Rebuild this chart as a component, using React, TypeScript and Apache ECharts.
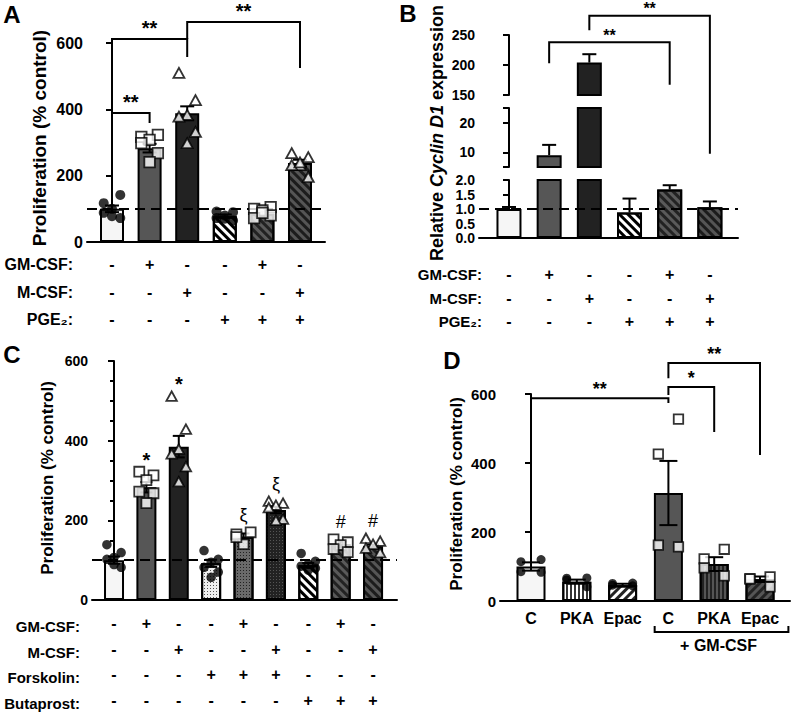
import React, { useEffect, useRef } from "react";
import * as echarts from "echarts";

const FONT = '"Liberation Sans", Arial, Helvetica, sans-serif';

// ---------------- Panel A ----------------
const aMeans = [100, 283, 388, 78, 85, 238];
const aSem = [10, 13, 21, 5, 7, 10];
const aPoints = [
  [117, 142, 100, 88, 72, 78],
  [317, 323, 308, 298, 268, 241],
  [510, 428, 383, 378, 332, 298],
  [92, 90, 80, 72, 65, 70],
  [100, 105, 95, 72, 80, 88],
  [268, 256, 232, 232, 196, 240],
];
const aMarkers = ["circle", "square", "triangle", "circle", "square", "triangle"];
const aFills = ["white", "grey", "dark", "whiteStripe", "greyStripe", "darkStripe"];
const aRowLabels = ["GM-CSF:", "M-CSF:", "PGE₂:"];
const aTable = [
  ["-", "+", "-", "-", "+", "-"],
  ["-", "-", "+", "-", "-", "+"],
  ["-", "-", "-", "+", "+", "+"],
];
// [from, to, top, leftLegEnd, rightLegEnd]
const aBrackets = [
  [0, 1, 389, 353, 359],
  [0, 2, 612, 491, 558],
  [2, 5, 663, 612, 525],
];
const aBracketLabels = ["**", "**", "**"];

// ---------------- Panel B ----------------
const bMeans = [1.0, 9.0, 204, 0.88, 1.67, 1.06];
const bSem = [0.07, 3.5, 14, 0.48, 0.15, 0.2];
const bFills = ["white", "grey", "dark", "whiteStripe", "greyStripe", "darkStripe"];
const bRowLabels = ["GM-CSF:", "M-CSF:", "PGE₂:"];
const bTable = [
  ["-", "+", "-", "-", "+", "-"],
  ["-", "-", "+", "-", "-", "+"],
  ["-", "-", "-", "+", "+", "+"],
];
const bSegments = [
  [0, 2],
  [5, 25],
  [150, 250],
];
const bBrackets = [
  [1, 4, 238, 203, 167],
  [2, 5, 282, 258, 52],
];
const bBracketLabels = ["**", "**"];

// ---------------- Panel C ----------------
const cMeans = [100, 283, 385, 92, 159, 226, 87, 140, 134];
const cSem = [9, 13, 27, 9, 8, 8, 6, 7, 5];
const cPoints = [
  [139, 119, 107, 102, 82, 89],
  [322, 313, 301, 272, 268, 243],
  [512, 429, 379, 367, 335, 297],
  [124, 102, 95, 82, 70, 57],
  [165, 170, 140, 158],
  [248, 243, 238, 232, 203, 200],
  [117, 97, 90, 85, 80, 75],
  [152, 145, 138, 128, 120],
  [155, 148, 140, 130, 119],
];
const cMarkers = ["circle", "square", "triangle", "circle", "square", "triangle", "circle", "square", "triangle"];
const cFills = ["white", "grey", "dark", "whiteDots", "greyDots", "darkDots", "whiteStripe", "greyStripe", "darkStripe"];
const cMarks = ["", "*", "*", "", "ξ", "ξ", "", "#", "#"];
const cRowLabels = ["GM-CSF:", "M-CSF:", "Forskolin:", "Butaprost:"];
const cTable = [
  ["-", "+", "-", "-", "+", "-", "-", "+", "-"],
  ["-", "-", "+", "-", "-", "+", "-", "-", "+"],
  ["-", "-", "-", "+", "+", "+", "-", "-", "-"],
  ["-", "-", "-", "-", "-", "-", "+", "+", "+"],
];

// ---------------- Panel D ----------------
const dCategories = ["C", "PKA", "Epac", "C", "PKA", "Epac"];
const dMeans = [100, 56, 46, 313, 107, 63];
const dSem = [12, 6, 4, 93, 20, 8];
const dPoints = [
  [120, 114, 85, 83],
  [67, 66, 61, 41],
  [52, 51, 46, 44],
  [527, 426, 162, 157],
  [150, 122, 96, 73],
  [70, 64, 64, 41],
];
const dMarkers = ["circle", "circle", "circle", "square", "square", "square"];
const dFills = ["white", "whiteVert", "whiteStripeR", "grey", "darkVert", "darkStripeR"];
const dGroupLabel = "+ GM-CSF";
const dGroup = [3, 5];
const dBrackets = [
  [0, 3, 588, 397, 574],
  [3, 4, 620, 597, 490],
  [3, 5, 690, 646, 423],
];
const dBracketLabels = ["**", "*", "**"];

// ---------------- styling helpers ----------------
const stripe = (c: string, rot = Math.PI / 4) => ({
  symbol: "rect",
  symbolSize: 1,
  dashArrayX: [1, 0],
  dashArrayY: [3, 3],
  rotation: rot,
  color: c,
});
const dots = (c: string) => ({
  symbol: "rect",
  symbolSize: 1,
  dashArrayX: [1, 2],
  dashArrayY: [1, 2],
  color: c,
});
const vert = (c: string) => ({
  symbol: "rect",
  symbolSize: 1,
  dashArrayX: [1, 0],
  dashArrayY: [2, 2],
  rotation: Math.PI / 2,
  color: c,
});

const FILL: Record<string, any> = {
  white: { color: "#f6f6f6" },
  grey: { color: "#565656" },
  dark: { color: "#222222" },
  whiteStripe: { color: "#ffffff", decal: stripe("#000") },
  greyStripe: { color: "#5a5a5a", decal: stripe("#222") },
  darkStripe: { color: "#1c1c1c", decal: stripe("#555") },
  whiteStripeR: { color: "#ffffff", decal: stripe("#222", -Math.PI / 4) },
  darkStripeR: { color: "#555555", decal: stripe("#222", -Math.PI / 4) },
  whiteDots: { color: "#f0f0f0", decal: dots("#555") },
  greyDots: { color: "#6a6a6a", decal: dots("#222") },
  darkDots: { color: "#222222", decal: dots("#555") },
  whiteVert: { color: "#ffffff", decal: vert("#333") },
  darkVert: { color: "#555555", decal: vert("#222") },
};

function yAxisCfg(gridIndex: number, min: number, max: number, interval: number, fontSize: number, extra: any = {}) {
  return {
    type: "value",
    gridIndex,
    min,
    max,
    interval,
    axisLine: { show: true, lineStyle: { color: "#000", width: 2 } },
    axisTick: { show: true, length: 6, lineStyle: { color: "#000", width: 2 } },
    axisLabel: { color: "#000", fontWeight: "bold", fontSize, fontFamily: FONT, margin: 4 },
    splitLine: { show: false },
    ...extra,
  };
}

function xAxisCfg(gridIndex: number, n: number, min: number, max: number, label: any, showLine = true) {
  const idx = Array.from({ length: n }, (_, i) => i);
  return {
    type: "value",
    gridIndex,
    min,
    max,
    axisLine: { show: showLine, onZero: false, lineStyle: { color: "#000", width: 2 } },
    axisTick: { show: false },
    axisLabel: label
      ? {
          show: true,
          customValues: idx,
          color: "#000",
          fontWeight: "bold",
          fontFamily: FONT,
          ...label,
        }
      : { show: false },
    splitLine: { show: false },
  };
}

function barSeries(xi: number, yi: number, means: number[], fills: string[], barWidth: number, minVal = -Infinity) {
  const data: any[] = [];
  means.forEach((m, i) => {
    if (m > minVal) {
      data.push({
        value: [i, m],
        itemStyle: { ...FILL[fills[i]], borderColor: "#000", borderWidth: 2 },
      });
    }
  });
  return {
    type: "bar",
    xAxisIndex: xi,
    yAxisIndex: yi,
    barWidth,
    clip: true,
    z: 2,
    data,
  };
}

function errSeries(xi: number, yi: number, means: number[], sems: number[], both: boolean, cap: number, keep?: (m: number) => boolean) {
  const data: any[] = [];
  means.forEach((m, i) => {
    if (!keep || keep(m)) data.push([i, m, sems[i]]);
  });
  return {
    type: "custom",
    xAxisIndex: xi,
    yAxisIndex: yi,
    z: 3,
    clip: false,
    renderItem: (params: any, api: any) => {
      const x = api.value(0);
      const m = api.value(1);
      const s = api.value(2);
      const top = api.coord([x, m + s]);
      const bot = api.coord([x, both ? m - s : m]);
      const st = { stroke: "#000", lineWidth: 2 };
      const children: any[] = [
        { type: "line", shape: { x1: top[0], y1: top[1], x2: bot[0], y2: bot[1] }, style: st },
        { type: "line", shape: { x1: top[0] - cap, y1: top[1], x2: top[0] + cap, y2: top[1] }, style: st },
      ];
      if (both) children.push({ type: "line", shape: { x1: bot[0] - cap, y1: bot[1], x2: bot[0] + cap, y2: bot[1] }, style: st });
      return { type: "group", children };
    },
    data,
  };
}

const SIZES: Record<string, any> = { circle: 10, square: 10.5, triangle: [11, 10] };

function pointSeries(xi: number, yi: number, points: number[][], markers: string[], jit: number[], scale = 1) {
  const data: any[] = [];
  points.forEach((vals, i) => {
    vals.forEach((v, j) => {
      const m = markers[i];
      const sz = SIZES[m];
      data.push({
        value: [i + jit[j % jit.length], v],
        symbol: m === "square" ? "rect" : m,
        symbolSize: Array.isArray(sz) ? sz.map((s: number) => s * scale) : sz * scale,
        itemStyle:
          m === "circle"
            ? { color: "#000", borderWidth: 0 }
            : { color: "#fff", borderColor: "#000", borderWidth: 1.8 },
      });
    });
  });
  return { type: "scatter", xAxisIndex: xi, yAxisIndex: yi, z: 5, clip: false, data };
}

function dashSeries(xi: number, yi: number, y: number) {
  return {
    type: "line",
    xAxisIndex: xi,
    yAxisIndex: yi,
    data: [],
    z: 4,
    markLine: {
      silent: true,
      symbol: "none",
      label: { show: false },
      lineStyle: { color: "#000", type: [10, 6], width: 2.2 },
      data: [{ yAxis: y }],
    },
  };
}

function bracketSeries(xi: number, yi: number, brackets: number[][], labels: string[], fontSize: number, lift: number) {
  return {
    type: "custom",
    xAxisIndex: xi,
    yAxisIndex: yi,
    z: 6,
    clip: false,
    renderItem: (params: any, api: any) => {
      const a = api.value(0);
      const b = api.value(1);
      const t = api.value(2);
      const lb = api.value(3);
      const rb = api.value(4);
      const p1 = api.coord([a, lb]);
      const p2 = api.coord([a, t]);
      const p3 = api.coord([b, t]);
      const p4 = api.coord([b, rb]);
      return {
        type: "group",
        children: [
          {
            type: "polyline",
            shape: { points: [p1, p2, p3, p4] },
            style: { stroke: "#000", lineWidth: 2, fill: "none" },
          },
          {
            type: "text",
            x: (p2[0] + p3[0]) / 2,
            y: p2[1] - lift,
            style: {
              text: labels[params.dataIndex],
              fill: "#000",
              font: `bold ${fontSize}px ${FONT}`,
              align: "center",
              verticalAlign: "middle",
            },
          },
        ],
      };
    },
    data: brackets,
  };
}

function tableFormatter(table: string[][]) {
  return (v: number) => table.map((r) => r[Math.round(v)]).join("\n");
}

function rowLabelGraphics(labels: string[], right: number, firstY: number, lh: number, fontSize: number) {
  return labels.map((t, r) => ({
    type: "text",
    x: right,
    y: firstY + r * lh,
    style: {
      text: t,
      fill: "#000",
      font: `bold ${fontSize}px ${FONT}`,
      align: "right",
      verticalAlign: "middle",
    },
  }));
}

function titleGraphic(x: number, y: number, text: string, fontSize: number, rich?: any) {
  return {
    type: "text",
    x,
    y,
    rotation: Math.PI / 2,
    style: {
      text,
      fill: "#000",
      font: `bold ${fontSize}px ${FONT}`,
      align: "center",
      verticalAlign: "middle",
      ...(rich ? { rich } : {}),
    },
  };
}

function letter(x: number, y: number, t: string) {
  return {
    type: "text",
    x,
    y,
    style: { text: t, fill: "#000", font: `bold 24px ${FONT}`, align: "center", verticalAlign: "middle" },
  };
}

const JIT6 = [-0.22, 0.22, 0, -0.22, 0.22, 0];
const JIT4 = [0.22, -0.22, -0.22, 0.22];

export default function App() {
  const ref = useRef<HTMLDivElement>(null);
  useEffect(() => {
    if (!ref.current) return;
    const chart = echarts.init(ref.current, undefined, { renderer: "svg" });

    // grid indices: 0=A, 1=B bottom, 2=B middle, 3=B top, 4=C, 5=D
    const grid = [
      { left: 87, top: 43, width: 238, height: 199 },
      { left: 479, top: 180, width: 259, height: 58 },
      { left: 479, top: 108, width: 259, height: 59 },
      { left: 479, top: 35, width: 259, height: 60 },
      { left: 92, top: 361, width: 305, height: 242 },
      { left: 500, top: 394, width: 290, height: 207 },
    ];

    const aLH = 27.5;
    const bLH = 23.5;
    const cLH = 25.5;

    const xAxis = [
      xAxisCfg(0, 6, -0.665, 5.665, { formatter: tableFormatter(aTable), fontSize: 16, lineHeight: aLH, margin: 9 }),
      xAxisCfg(1, 6, -0.746, 5.7, { formatter: tableFormatter(bTable), fontSize: 16, lineHeight: bLH, margin: 25 }),
      xAxisCfg(2, 6, -0.746, 5.7, null, false),
      xAxisCfg(3, 6, -0.746, 5.7, null, false),
      xAxisCfg(4, 9, -0.68, 8.74, { formatter: tableFormatter(cTable), fontSize: 16, lineHeight: cLH, margin: 11 }),
      xAxisCfg(5, 6, -0.677, 5.655, {
        formatter: (v: number) => dCategories[Math.round(v)],
        fontSize: 16,
        lineHeight: 16,
        margin: 9,
      }),
    ];

    const yAxis = [
      yAxisCfg(0, 0, 600, 200, 16),
      yAxisCfg(1, bSegments[0][0], bSegments[0][1], 0.5, 14, {
        axisLabel: {
          color: "#000",
          fontWeight: "bold",
          fontSize: 14,
          fontFamily: FONT,
          margin: 4,
          formatter: (v: number) => v.toFixed(1),
        },
      }),
      yAxisCfg(2, bSegments[1][0], bSegments[1][1], 5, 14, {
        axisTick: { show: true, length: 6, lineStyle: { color: "#000", width: 2 }, customValues: [5, 10, 20, 25] },
        axisLabel: { color: "#000", fontWeight: "bold", fontSize: 14, fontFamily: FONT, margin: 4, customValues: [10, 20] },
      }),
      yAxisCfg(3, bSegments[2][0], bSegments[2][1], 50, 14),
      yAxisCfg(4, 0, 600, 200, 14, {
        minorTick: { show: true, splitNumber: 4, length: 4, lineStyle: { color: "#000", width: 2 } },
      }),
      yAxisCfg(5, 0, 600, 200, 15),
    ];

    const inSeg = (k: number) => (m: number) =>
      k === 0 ? m <= bSegments[0][1] : k === 1 ? m > bSegments[0][1] && m <= bSegments[1][1] : m > bSegments[1][1];

    const dGroupSeries = {
      type: "custom",
      xAxisIndex: 5,
      yAxisIndex: 5,
      clip: false,
      z: 6,
      renderItem: (params: any, api: any) => {
        const l = api.coord([api.value(0) - 0.3, 0]);
        const r = api.coord([api.value(1) + 0.62, 0]);
        const y = l[1] + 31;
        const st = { stroke: "#000", lineWidth: 2, fill: "none" };
        return {
          type: "group",
          children: [
            { type: "polyline", shape: { points: [[l[0], y - 6], [l[0], y], [r[0], y], [r[0], y - 6]] }, style: st },
            {
              type: "text",
              x: (l[0] + r[0]) / 2 - 3,
              y: y + 13,
              style: { text: dGroupLabel, fill: "#000", font: `bold 16px ${FONT}`, align: "center", verticalAlign: "middle" },
            },
          ],
        };
      },
      data: [dGroup],
    };

    const cMarkSeries = {
      type: "custom",
      xAxisIndex: 4,
      yAxisIndex: 4,
      z: 6,
      clip: false,
      renderItem: (params: any, api: any) => {
        const p = api.coord([api.value(0), api.value(1)]);
        const t = cMarks[params.dataIndex];
        const star = t === "*";
        return {
          type: "text",
          x: p[0],
          y: p[1] - (star ? 12 : 17),
          style: {
            text: t,
            fill: "#000",
            font: `${star ? "bold 20px" : "18px"} ${FONT}`,
            align: "center",
            verticalAlign: "middle",
          },
        };
      },
      data: cPoints.map((pts, i) => [i, Math.max(...pts)]),
    };

    const series: any[] = [
      // A
      barSeries(0, 0, aMeans, aFills, 24),
      errSeries(0, 0, aMeans, aSem, true, 7),
      dashSeries(0, 0, 100),
      pointSeries(0, 0, aPoints, aMarkers, JIT6),
      bracketSeries(0, 0, aBrackets, aBracketLabels, 20, 11),
      // B
      barSeries(1, 1, bMeans, bFills, 25),
      barSeries(2, 2, bMeans, bFills, 25, bSegments[1][0]),
      barSeries(3, 3, bMeans, bFills, 25, bSegments[2][0]),
      errSeries(1, 1, bMeans, bSem, false, 7, inSeg(0)),
      errSeries(2, 2, bMeans, bSem, false, 7, inSeg(1)),
      errSeries(3, 3, bMeans, bSem, false, 7, inSeg(2)),
      dashSeries(1, 1, 1),
      bracketSeries(3, 3, bBrackets, bBracketLabels, 16, 7),
      // C
      barSeries(4, 4, cMeans, cFills, 20),
      errSeries(4, 4, cMeans, cSem, true, 6),
      dashSeries(4, 4, 100),
      pointSeries(4, 4, cPoints, cMarkers, JIT6, 0.95),
      cMarkSeries,
      // D
      barSeries(5, 5, dMeans, dFills, 29),
      errSeries(5, 5, dMeans, dSem, true, 9),
      pointSeries(5, 5, dPoints, dMarkers, JIT4, 0.9),
      bracketSeries(5, 5, dBrackets, dBracketLabels, 18, 9),
      dGroupSeries,
    ];

    const graphic: any[] = [
      letter(12, 14, "A"),
      letter(408, 13, "B"),
      letter(12, 354, "C"),
      letter(452, 360, "D"),
      titleGraphic(39, 138, "Proliferation (% control)", 19),
      titleGraphic(437, 133, "{n|Relative }{i|Cyclin D1}{n| expression}", 18, {
        n: { fontFamily: FONT, fontWeight: "bold", fontSize: 18, fill: "#000" },
        i: { fontFamily: FONT, fontWeight: "bold", fontStyle: "italic", fontSize: 18, fill: "#000" },
      }),
      titleGraphic(47, 478, "Proliferation (% control)", 17),
      titleGraphic(456, 494, "Proliferation (% control)", 17),
      ...rowLabelGraphics(aRowLabels, 73, 242 + 9 + aLH / 2, aLH, 16),
      ...rowLabelGraphics(bRowLabels, 482, 238 + 25 + bLH / 2, bLH, 15),
      ...rowLabelGraphics(cRowLabels, 80, 603 + 11 + cLH / 2, cLH, 15),
    ];

    chart.setOption({
      animation: false,
      backgroundColor: "#fff",
      textStyle: { fontFamily: FONT },
      grid,
      xAxis,
      yAxis,
      series,
      graphic,
    });
    return () => chart.dispose();
  }, []);
  return (
    <div
      ref={ref}
      style={{ position: "absolute", left: 0, top: 0, width: 793, height: 713 }}
    />
  );
}
